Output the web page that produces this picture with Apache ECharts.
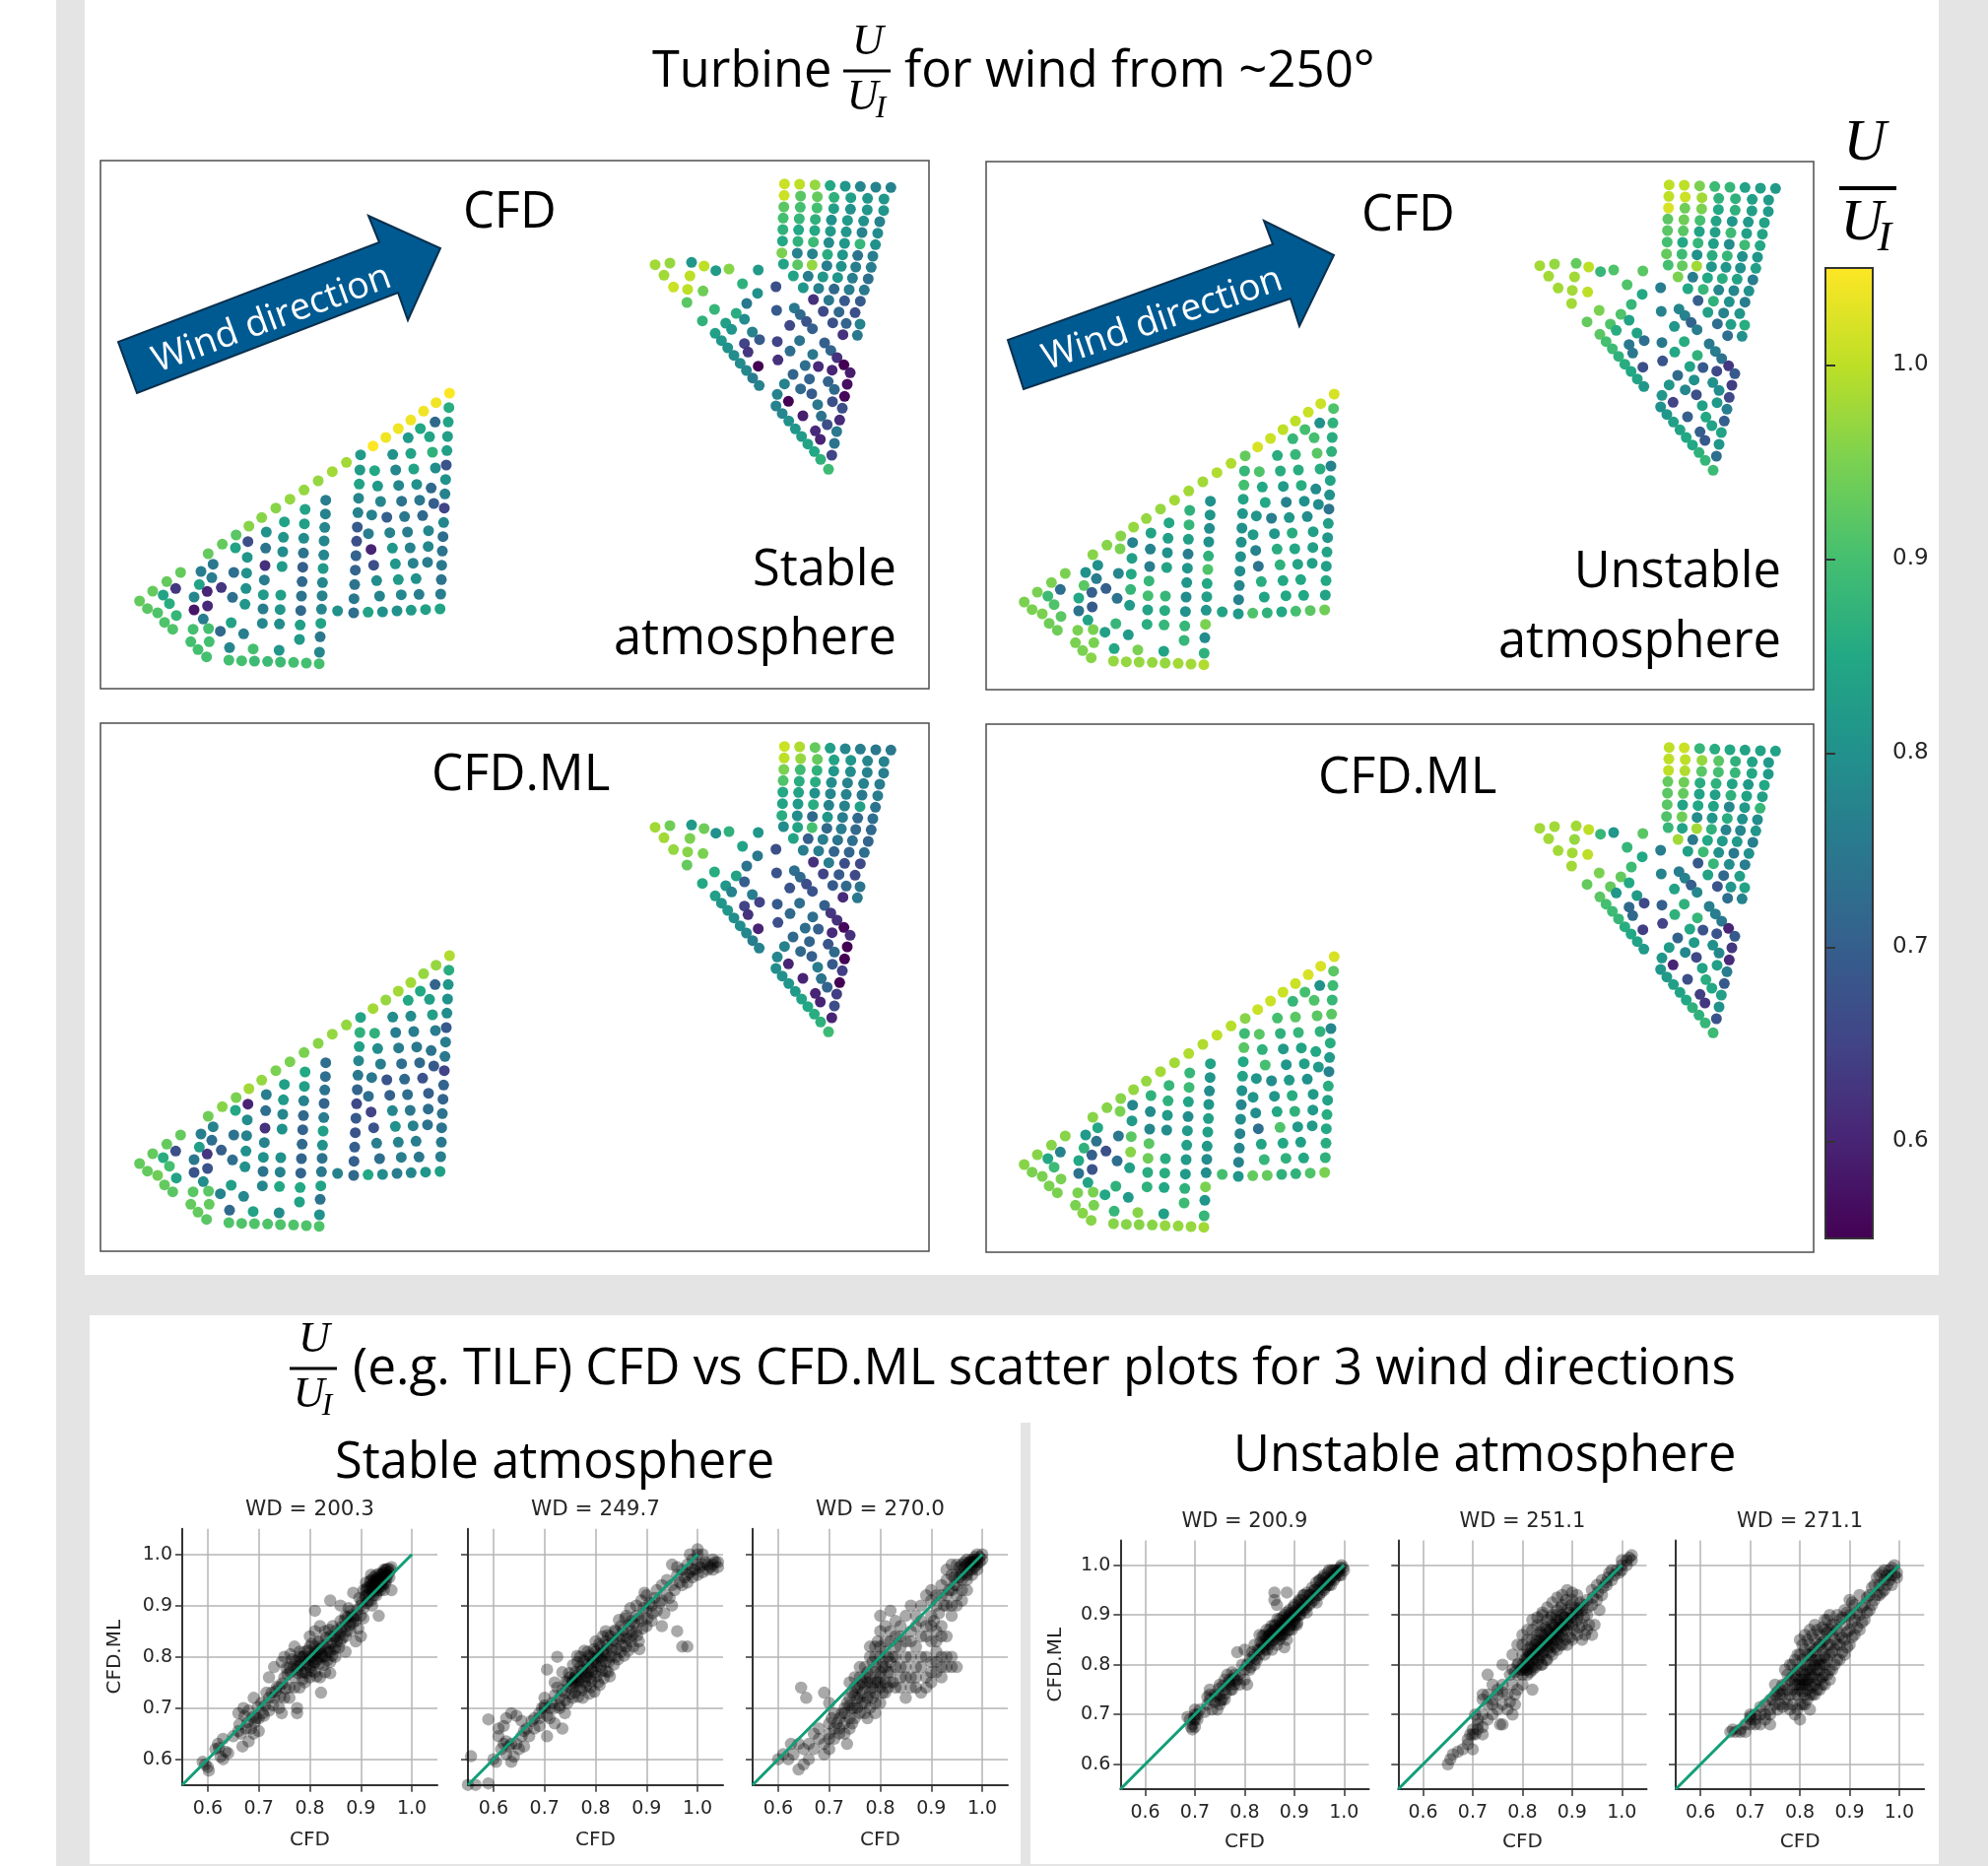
<!DOCTYPE html>
<html><head><meta charset="utf-8">
<script src="https://cdn.jsdelivr.net/npm/echarts@6/dist/echarts.min.js"></script>
<style>html,body{margin:0;padding:0;background:#fff}#c{width:2018px;height:1894px}</style>
</head><body><div id="c"></div>
<script>
// Turbine rows: [siteX, siteY, stable CFD, unstable CFD, stable CFD.ML, unstable CFD.ML]
const southEdge=[[1009,42,1.05,1.02,.99,1.02],[968,71,1.04,1.01,.97,1.02],[930,97,1.04,1.01,.97,1.02],[891,124,1.04,1.0,.98,1.01],[853,150,1.04,1.0,.98,1.01],[815,177,1.04,1.01,.97,1.01],[776,203,1.05,1.02,.98,1.01],
[695,253,.98,.99,.97,.995],[652,281,.98,.99,.97,1.0],[609,309,.97,.98,.96,.99],[566,337,.97,.98,.95,.99],[523,365,.97,.98,.95,.98],[480,392,.96,.97,.95,.98],[437,421,.96,.97,.97,.97],[398,447,.96,.97,.98,.97],[359,474,.92,.96,.95,.96],[317,502,.93,.96,.96,.96],[274,531,.93,.96,.94,.96],[190,588,.93,.95,.93,.96],[148,616,.93,.95,.93,.96],[105,645,.93,.95,.93,.96],[65,675,.93,.95,.93,.96]];
const southCol1=[[738,230,.82,.93,.84,.96],[736,276,.82,.88,.87,.89],[734,319,.84,.9,.83,.92],[732,362,.78,.84,.78,.85],[730,406,.77,.81,.75,.84],[728,450,.69,.8,.71,.8],[726,493,.67,.8,.66,.78],[724,537,.71,.8,.69,.79],[722,581,.71,.79,.68,.77],[720,625,.74,.78,.7,.78],[718,668,.75,.77,.7,.77]];
const southCol2=[[781,278,.85,.91,.87,.92],[790,325,.82,.85,.79,.87],[799,372,.78,.85,.76,.9],[772,413,.77,.81,.75,.81],[818,420,.7,.76,.68,.79],[762,470,.76,.82,.73,.81],[770,518,.6,.77,.65,.79],[778,566,.67,.74,.68,.73],[787,613,.79,.86,.76,.84],[796,660,.77,.84,.73,.88]];
const southCol3=[[836,229,.8,.86,.79,.9],[845,276,.78,.86,.76,.87],[854,323,.78,.82,.76,.82],[863,371,.74,.77,.73,.81],[872,418,.75,.81,.72,.82],[827,467,.77,.81,.7,.81],[835,514,.81,.86,.78,.85],[844,562,.81,.87,.8,.91],[853,610,.82,.85,.77,.85],[862,656,.78,.85,.76,.87]];
const southCol4=[[883,178,.82,.88,.85,.88],[891,226,.84,.88,.79,.92],[900,273,.84,.86,.76,.88],[909,320,.8,.86,.75,.84],[918,368,.75,.8,.72,.83],[927,415,.72,.79,.68,.8],[881,465,.76,.86,.73,.86],[889,513,.77,.85,.75,.87],[898,560,.77,.84,.77,.82],[907,607,.8,.85,.76,.83],[916,655,.76,.85,.75,.85]];
const southCol5=[[920,150,.85,.9,.85,.9],[948,175,.84,.9,.83,.91],[957,222,.87,.92,.83,.92],[966,270,.79,.86,.76,.87],[953,331,.72,.79,.74,.85],[961,378,.7,.79,.69,.82],[945,461,.78,.83,.7,.82],[944,509,.78,.83,.73,.82],[942,557,.76,.83,.74,.82],[965,130,.72,.8,.71,.8]];
const southCol6=[[1007,86,.86,.91,.86,.92],[1005,130,.84,.87,.81,.89],[1003,174,.83,.86,.8,.88],[1001,217,.83,.87,.79,.92],[999,261,.68,.77,.69,.78],[997,305,.8,.84,.76,.86],[995,349,.77,.8,.75,.82],[993,392,.65,.74,.65,.77],[991,436,.78,.83,.71,.86],[989,479,.73,.81,.71,.84],[987,523,.74,.84,.74,.86],[985,566,.75,.83,.74,.85],[984,610,.74,.85,.75,.86],[982,654,.76,.84,.76,.87]];
const southFoot=[[668,705,.8,.84,.77,.9],[717,711,.73,.82,.72,.81],[761,709,.84,.91,.85,.93],[805,708,.8,.87,.79,.93],[849,705,.8,.85,.76,.87],[892,703,.82,.9,.78,.87],[936,701,.83,.92,.81,.91],[980,699,.84,.94,.83,.95]];
const southColA=[[632,368,.76,.8,.73,.84],[631,410,.77,.81,.73,.81],[629,451,.78,.79,.74,.79],[627,492,.78,.8,.71,.81],[626,535,.78,.87,.76,.83],[624,576,.82,.91,.83,.83],[622,619,.78,.85,.8,.82],[621,659,.77,.83,.74,.79],[619,700,.78,.81,.75,.79],[617,743,.84,.95,.84,.95],[615,784,.75,.79,.74,.81],[613,831,.78,.87,.8,.88]];
const southColB=[[569,396,.84,.87,.85,.88],[567,440,.83,.88,.83,.89],[565,484,.79,.83,.77,.84],[564,529,.74,.76,.72,.79],[562,572,.7,.81,.71,.82],[560,616,.72,.81,.72,.83],[558,660,.74,.79,.71,.82],[556,704,.72,.8,.71,.82],[554,748,.83,.88,.85,.87],[552,792,.82,.88,.84,.89]];
const southColC=[[506,434,.84,.85,.83,.88],[503,481,.81,.83,.82,.87],[501,525,.79,.8,.78,.82],[499,570,.82,.84,.8,.79],[495,657,.83,.88,.8,.86],[493,701,.81,.86,.77,.86],[491,745,.79,.88,.85,.85],[490,825,.81,.84,.79,.83]];
const southColD=[[451,465,.8,.84,.76,.87],[449,514,.74,.77,.73,.79],[447,567,.62,.76,.62,.78],[445,611,.76,.88,.77,.92],[442,656,.82,.9,.8,.94],[441,699,.76,.84,.74,.86],[439,743,.78,.86,.78,.87]];
const southColE=[[395,494,.67,.77,.6,.78],[393,542,.81,.83,.79,.82],[391,590,.8,.85,.77,.92],[389,637,.8,.88,.8,.96],[386,685,.81,.82,.8,.83],[357,513,.84,.95,.85,.95]];
const southMisc=[[289,563,.75,.8,.77,.85],[252,585,.76,.8,.76,.82],[352,588,.73,.78,.74,.75],[285,604,.76,.76,.73,.74],[247,625,.84,.92,.83,.87],[314,634,.63,.7,.7,.67],[271,646,.6,.7,.63,.7],[175,637,.63,.73,.67,.77],[348,664,.73,.74,.73,.73],[231,663,.78,.85,.75,.85],[137,657,.84,.89,.86,.85],[156,683,.86,.91,.9,.89],[231,702,.58,.74,.68,.74],[272,690,.61,.69,.68,.68],[89,698,.92,.95,.93,.95],[120,711,.91,.95,.94,.95],[177,719,.88,.92,.84,.95],[259,730,.76,.84,.79,.84],[141,740,.91,.94,.93,.95],[344,741,.84,.88,.83,.87],[166,761,.91,.94,.92,.95],[228,761,.9,.95,.92,.95],[275,759,.9,.95,.92,.95],[311,767,.72,.83,.77,.85],[382,775,.76,.82,.78,.82],[221,799,.9,.95,.93,.95],[277,799,.9,.95,.93,.95],[243,823,.9,.95,.93,.96],[339,817,.78,.85,.72,.88],[411,821,.9,.95,.84,.96],[269,845,.9,.96,.92,.96]];
const southBase=[[337,855,.9,.97,.91,.96],[376,857,.9,.97,.91,.96],[415,858,.89,.97,.91,.96],[455,859,.89,.97,.91,.96],[494,861,.89,.97,.91,.97],[534,862,.9,.98,.91,.97],[573,864,.9,.98,.91,.97],[612,866,.9,.99,.91,.98]];

const northRow1=[[529,110,1.01,1.0,1.01,1.0],[575,111,1.0,1.0,.99,1.01],[622,113,.97,.95,.93,.88],[668,115,.85,.89,.83,.86],[714,117,.81,.88,.78,.85],[760,118,.78,.84,.76,.84],[807,120,.77,.83,.75,.84],[853,121,.77,.82,.75,.84]];
const northRow2=[[528,145,1.01,1.0,1.0,1.0],[578,147,.92,1.01,.97,1.0],[629,149,.93,.98,.93,.97],[680,151,.87,.87,.84,.92],[731,152,.83,.87,.81,.87],[782,154,.81,.83,.78,.84],[832,156,.81,.82,.77,.82]];
const northRow3=[[527,180,.92,1.02,.95,1.0],[577,181,.9,.94,.89,.99],[628,183,.9,.95,.87,.92],[679,185,.83,.85,.81,.9],[730,187,.8,.87,.79,.88],[781,189,.81,.83,.77,.85],[831,191,.81,.82,.76,.82]];
const northRow4=[[525,214,.9,.92,.91,.93],[574,216,.88,.94,.86,.94],[623,218,.87,.9,.86,.86],[672,220,.8,.84,.79,.87],[721,221,.82,.81,.77,.84],[770,223,.8,.82,.77,.82],[819,225,.77,.84,.76,.85]];
const northRow5=[[524,249,.87,.92,.85,.92],[572,250,.85,.92,.84,.93],[621,252,.85,.84,.8,.84],[669,254,.82,.83,.78,.83],[717,256,.81,.89,.77,.87],[765,258,.77,.83,.75,.84],[813,260,.79,.84,.76,.83]];
const northRow6=[[523,284,.85,.9,.84,.92],[570,285,.87,.85,.82,.84],[617,287,.89,.88,.86,.85],[664,289,.79,.83,.77,.84],[712,291,.81,.79,.77,.78],[759,293,.88,.89,.83,.82],[806,295,.8,.85,.74,.88]];
const northRow7=[[521,320,.95,.93,.86,.91],[568,321,.77,.89,.79,.94],[614,323,.77,.8,.72,.79],[660,325,.86,.86,.81,.81],[706,326,.81,.88,.76,.86],[752,328,.74,.8,.72,.8],[798,330,.76,.81,.73,.79]];
const northRow8=[[526,354,.84,.9,.79,.88],[569,356,.92,.93,.84,.84],[613,357,.97,.98,.9,.98],[658,359,.76,.81,.72,.87],[702,361,.8,.81,.76,.77],[746,363,.76,.8,.72,.78],[793,364,.76,.83,.72,.81]];
const northRow9=[[556,390,.84,.95,.84,.98],[601,391,.76,.76,.7,.75],[646,393,.81,.85,.76,.85],[691,395,.81,.86,.74,.82],[736,397,.76,.84,.73,.82],[784,399,.73,.76,.71,.76]];
const northRow10=[[586,426,.81,.85,.76,.83],[633,428,.77,.88,.76,.89],[680,430,.72,.78,.71,.8],[726,432,.76,.78,.71,.75],[772,433,.75,.8,.73,.8]];
const northRow11=[[617,462,.62,.7,.62,.69],[664,464,.75,.87,.76,.88],[712,466,.69,.8,.67,.79],[760,467,.69,.76,.66,.76]];
const northRow12=[[647,498,.66,.83,.65,.84],[695,500,.72,.77,.69,.72],[744,502,.67,.81,.66,.83]];
const northRow13=[[676,533,.67,.73,.69,.68],[717,535,.71,.83,.72,.81],[759,537,.77,.86,.74,.84]];
const northRow14=[[707,569,.62,.73,.61,.73],[751,571,.75,.8,.75,.77]];
const northWest=[[135,356,.98,.98,.98,.98],[180,351,.97,.97,.94,.98],[246,349,.81,.93,.82,.98],[284,360,1.0,1.0,.94,1.0],[320,374,.82,.88,.8,.88],[360,369,.96,.91,.87,.81],[449,372,.82,.92,.81,.92],[162,388,.98,.98,.98,.98],[241,390,1.0,.98,.95,.97],[191,424,1.01,.98,.97,.98],[234,431,1.0,.98,.96,.98],[281,436,.94,1.0,.95,1.0],[232,471,.92,.98,.93,.98],[401,414,.87,.91,.84,.88],[447,443,.8,.85,.75,.85],[503,423,.67,.76,.67,.76],[414,474,.75,.88,.74,.89],[316,492,.88,.95,.86,.95],[382,504,.86,.91,.84,.93],[279,527,.87,.93,.85,.93],[407,522,.79,.84,.7,.85],[350,534,.83,.91,.81,.93],[368,553,.81,.86,.77,.81],[431,561,.77,.84,.76,.82],[453,584,.69,.73,.65,.66],[407,596,.65,.75,.65,.72],[418,622,.63,.75,.62,.72],[449,665,.55,.67,.6,.64]];
const northDiagA=[[318,565,.83,.92,.83,.92],[337,587,.81,.9,.81,.9],[356,609,.8,.89,.81,.89],[375,632,.79,.87,.79,.88],[394,656,.79,.86,.79,.86],[413,678,.78,.85,.78,.85],[432,701,.76,.84,.76,.84],[452,724,.77,.81,.77,.82]];
const northMid=[[505,495,.69,.77,.68,.77],[559,488,.75,.78,.73,.76],[577,508,.72,.77,.72,.77],[596,529,.68,.71,.67,.7],[614,551,.7,.76,.68,.78],[545,541,.66,.81,.68,.84],[507,590,.65,.75,.69,.7],[575,587,.74,.86,.73,.87],[546,619,.73,.85,.72,.87],[509,646,.62,.68,.67,.65]];
const northEastEdge=[[651,594,.7,.75,.7,.76],[670,617,.71,.76,.63,.76],[689,639,.62,.74,.62,.75],[710,661,.55,.63,.56,.6],[729,685,.59,.69,.62,.69],[720,720,.57,.64,.55,.63],[712,757,.56,.66,.55,.61],[705,793,.67,.76,.64,.76],[697,829,.61,.7,.55,.69],[688,864,.75,.84,.64,.83],[681,900,.74,.81,.67,.8],[673,936,.65,.73,.6,.68]];
const northInner=[[615,629,.75,.87,.73,.88],[592,663,.73,.84,.73,.85],[632,666,.61,.69,.7,.68],[674,677,.6,.66,.61,.68],[555,690,.71,.72,.72,.71],[605,704,.71,.8,.71,.82],[662,712,.71,.8,.68,.8],[681,736,.72,.79,.72,.78],[529,719,.77,.81,.77,.82],[578,734,.72,.78,.72,.78],[612,749,.69,.67,.7,.66],[675,773,.67,.82,.69,.83],[630,782,.75,.83,.76,.84],[641,817,.74,.85,.74,.86],[659,843,.67,.84,.71,.85],[541,772,.55,.65,.6,.6],[585,816,.59,.7,.6,.67],[623,862,.61,.7,.6,.64],[638,888,.6,.69,.6,.63]];
const northDiagB=[[507,751,.77,.81,.78,.81],[503,786,.77,.8,.79,.81],[522,809,.78,.81,.8,.82],[542,832,.8,.83,.81,.83],[562,856,.81,.84,.82,.84],[581,879,.82,.85,.84,.85],[600,902,.84,.85,.85,.87],[620,925,.85,.87,.86,.87],[639,949,.87,.88,.87,.88],[663,979,.89,.89,.89,.89]];

const colorbarTicks=[.6,.7,.8,.9,1.0];
const viridis=['#440154','#482475','#414487','#355f8d','#2a788e','#21918c','#22a884','#44bf70','#7ad151','#bddf26','#fde725'];

// CFD vs CFD.ML scatter: [CFD, CFD.ML]
const stable200=[[.6,.585],[.595,.59],[.59,.595],[.602,.578],[.62,.63],[.63,.64],[.615,.62],[.625,.605],[.63,.6],[.64,.612],[.622,.622],[.635,.615],[.65,.645],[.66,.655],[.668,.625],[.665,.65],[.68,.635],[.675,.66],[.685,.66],[.69,.65],[.7,.655],[.695,.68],[.66,.69],[.67,.7],[.68,.695],[.69,.72],[.692,.672],[.7,.68],[.705,.71],[.71,.685],[.72,.695],[.72,.72],[.73,.72],[.74,.7],[.745,.69],[.715,.73],[.733,.733],[.75,.72],[.76,.72],[.74,.74],[.72,.76],[.73,.78],[.775,.7],[.775,.69],[.77,.74],[.76,.74],[.75,.76],[.76,.78],[.765,.795],[.75,.8],[.77,.82],[.77,.76],[.775,.78],[.78,.8],[.78,.74],[.785,.77],[.79,.79],[.79,.75],[.78,.81],[.79,.81],[.8,.82],[.8,.84],[.8,.78],[.8,.76],[.805,.8],[.81,.77],[.81,.79],[.81,.82],[.81,.85],[.82,.8],[.82,.83],[.82,.86],[.82,.76],[.822,.73],[.815,.81],[.83,.77],[.83,.8],[.83,.82],[.83,.85],[.84,.79],[.84,.81],[.84,.84],[.84,.768],[.845,.86],[.85,.82],[.85,.8],[.85,.84],[.86,.83],[.86,.85],[.86,.87],[.87,.81],[.87,.84],[.87,.86],[.87,.88],[.88,.85],[.88,.87],[.88,.89],[.89,.83],[.89,.87],[.89,.88],[.9,.84],[.9,.88],[.905,.875],[.895,.855],[.81,.89],[.84,.91],[.86,.9],[.885,.925],[.905,.93],[.91,.92],[.915,.91],[.91,.945],[.92,.93],[.92,.94],[.92,.95],[.925,.92],[.93,.93],[.93,.94],[.93,.95],[.93,.96],[.935,.935],[.94,.94],[.94,.95],[.94,.96],[.945,.97],[.945,.945],[.95,.95],[.95,.96],[.95,.97],[.955,.965],[.96,.975],[.96,.93],[.935,.88],[.92,.96],[.925,.945],[.935,.955],[.915,.935],[.925,.955],[.945,.965],[.91,.93],[.9,.9],[.92,.91],[.93,.92],[.775,.775],[.78,.79],[.785,.8],[.79,.77],[.795,.785],[.8,.8],[.805,.79],[.81,.81],[.815,.795],[.82,.815],[.825,.8],[.835,.81],[.935,.945],[.94,.945],[.93,.945],[.925,.935]];
const stable200More=[[.762,.771],[.768,.783],[.772,.792],[.777,.768],[.782,.784],[.786,.756],[.788,.801],[.793,.768],[.796,.812],[.798,.794],[.802,.772],[.804,.826],[.807,.784],[.812,.806],[.813,.762],[.817,.829],[.818,.787],[.823,.806],[.826,.822],[.827,.784],[.832,.838],[.834,.793],[.836,.816],[.838,.853],[.842,.827],[.844,.802],[.847,.838],[.848,.815],[.852,.852],[.853,.829],[.857,.818],[.858,.842],[.862,.858],[.864,.837],[.868,.871],[.872,.85],[.874,.878],[.878,.862],[.882,.881],[.884,.866],[.746,.748],[.752,.738],[.756,.766],[.742,.722],[.736,.742],[.728,.705],[.725,.73],[.712,.705],[.708,.69],[.698,.702],[.688,.682],[.678,.672],[.672,.685],[.662,.668],[.754,.778],[.745,.79],[.762,.805],[.908,.918],[.912,.935],[.916,.922],[.918,.947],[.922,.938],[.924,.928],[.926,.948],[.928,.935],[.931,.952],[.932,.927],[.934,.943],[.936,.962],[.937,.948],[.938,.93],[.941,.955],[.942,.938],[.943,.963],[.944,.952],[.946,.958],[.948,.97],[.948,.943],[.952,.958],[.953,.972],[.956,.955],[.958,.97],[.902,.908],[.897,.915],[.893,.892],[.886,.877],[.876,.895],[.905,.895],[.912,.905],[.922,.9],[.945,.93]];
const stable250=[[.556,.606],[.59,.678],[.59,.553],[.55,.55],[.565,.55],[.61,.66],[.61,.645],[.625,.68],[.635,.69],[.645,.685],[.655,.675],[.62,.665],[.6,.6],[.605,.595],[.62,.63],[.63,.625],[.625,.61],[.64,.605],[.635,.595],[.65,.62],[.66,.625],[.67,.645],[.66,.655],[.68,.66],[.675,.675],[.69,.665],[.69,.69],[.7,.7],[.705,.645],[.71,.68],[.72,.67],[.735,.66],[.715,.71],[.7,.72],[.695,.7],[.72,.7],[.73,.72],[.725,.74],[.74,.69],[.745,.71],[.705,.775],[.725,.8],[.735,.77],[.72,.75],[.745,.75],[.74,.73],[.75,.74],[.75,.76],[.755,.72],[.76,.75],[.76,.77],[.76,.73],[.765,.79],[.77,.74],[.77,.76],[.77,.78],[.77,.8],[.775,.72],[.78,.75],[.78,.77],[.78,.79],[.785,.81],[.79,.76],[.79,.78],[.79,.8],[.79,.74],[.8,.77],[.8,.79],[.8,.81],[.8,.83],[.805,.75],[.81,.78],[.81,.8],[.81,.82],[.82,.79],[.82,.81],[.82,.83],[.82,.85],[.825,.77],[.83,.8],[.83,.82],[.83,.84],[.84,.8],[.84,.83],[.84,.85],[.85,.81],[.85,.84],[.85,.86],[.86,.82],[.86,.84],[.86,.88],[.87,.83],[.87,.85],[.87,.87],[.88,.85],[.88,.88],[.88,.9],[.885,.83],[.89,.87],[.89,.91],[.9,.86],[.9,.89],[.9,.92],[.91,.87],[.91,.9],[.92,.89],[.92,.93],[.93,.86],[.93,.91],[.93,.94],[.94,.92],[.94,.95],[.95,.94],[.95,.9],[.96,.85],[.97,.82],[.98,.82],[.96,.96],[.97,.97],[.97,.94],[.98,.96],[.98,.98],[.99,.97],[1.0,1.0],[1.0,.98],[1.0,.96],[1.01,.98],[1.02,.97],[1.02,.98],[1.03,.98],[1.04,.985],[1.04,.975],[1.03,.99],[1.01,1.0],[1.0,1.01],[.99,.99],[.95,.98],[.76,.76],[.775,.775],[.785,.77],[.795,.79],[.805,.8],[.815,.81],[.765,.755],[.755,.75],[.78,.76]];
const stable250More=[[.742,.752],[.748,.768],[.752,.728],[.756,.784],[.758,.742],[.762,.762],[.764,.802],[.766,.722],[.768,.752],[.772,.772],[.773,.735],[.776,.792],[.778,.812],[.782,.742],[.783,.762],[.786,.785],[.787,.803],[.788,.728],[.792,.752],[.793,.772],[.796,.795],[.797,.815],[.798,.732],[.802,.762],[.803,.782],[.806,.805],[.807,.825],[.808,.745],[.812,.772],[.813,.792],[.814,.84],[.816,.758],[.818,.802],[.821,.772],[.822,.822],[.824,.842],[.826,.79],[.828,.762],[.832,.812],[.834,.832],[.836,.785],[.838,.852],[.842,.815],[.844,.795],[.846,.872],[.848,.835],[.852,.822],[.854,.852],[.856,.802],[.858,.875],[.862,.835],[.864,.812],[.866,.862],[.868,.895],[.872,.842],[.874,.82],[.876,.865],[.882,.842],[.884,.875],[.886,.815],[.892,.855],[.894,.895],[.896,.925],[.902,.875],[.906,.905],[.912,.885],[.916,.915],[.926,.905],[.935,.885],[.945,.915],[.955,.93],[.965,.945],[.975,.955],[.985,.965],[.995,.97],[1.005,.975],[1.015,.985],[1.025,.975],[1.035,.985],[1.03,.97],[1.01,.965],[.99,.955],[.98,.945],[.96,.975],[.985,1.0],[.7,.705],[.71,.7],[.72,.725],[.73,.705],[.735,.735],[.705,.685],[.69,.68],[.68,.68],[.665,.66],[.655,.645],[.645,.63],[.635,.63],[.625,.635],[.615,.62],[.73,.7],[.74,.715],[.755,.755]];
const stable270=[[.6,.6],[.62,.6],[.64,.58],[.65,.59],[.61,.61],[.625,.63],[.63,.61],[.64,.63],[.65,.62],[.66,.6],[.66,.63],[.67,.62],[.68,.64],[.68,.66],[.67,.65],[.69,.63],[.7,.64],[.7,.62],[.71,.66],[.7,.67],[.72,.66],[.73,.65],[.71,.69],[.72,.68],[.73,.7],[.74,.66],[.74,.68],[.645,.74],[.655,.72],[.69,.73],[.7,.71],[.69,.61],[.74,.72],[.75,.7],[.75,.74],[.76,.72],[.76,.76],[.77,.69],[.77,.74],[.77,.78],[.78,.73],[.78,.76],[.78,.8],[.79,.71],[.79,.75],[.79,.78],[.79,.82],[.8,.74],[.8,.77],[.8,.8],[.8,.85],[.8,.88],[.81,.73],[.81,.78],[.81,.81],[.81,.86],[.82,.75],[.82,.79],[.82,.83],[.82,.89],[.83,.74],[.83,.8],[.83,.84],[.83,.87],[.84,.76],[.84,.82],[.84,.86],[.85,.72],[.85,.78],[.85,.83],[.85,.88],[.86,.74],[.86,.8],[.86,.85],[.86,.9],[.87,.76],[.87,.82],[.87,.88],[.88,.73],[.88,.78],[.88,.84],[.88,.9],[.89,.76],[.89,.8],[.89,.86],[.89,.92],[.9,.75],[.9,.79],[.9,.83],[.9,.88],[.9,.93],[.91,.77],[.91,.81],[.91,.85],[.91,.9],[.92,.76],[.92,.8],[.92,.86],[.92,.92],[.93,.78],[.93,.84],[.93,.9],[.93,.95],[.94,.8],[.94,.88],[.94,.93],[.95,.78],[.95,.92],[.95,.96],[.96,.91],[.96,.95],[.96,.97],[.97,.95],[.97,.98],[.97,.99],[.98,.96],[.98,.98],[.98,.99],[.99,.98],[.99,.99],[.99,1.0],[1.0,.99],[.96,.98],[.95,.94],[.94,.96],[.975,.97],[.985,.975],[.995,.995],[.965,.985],[.955,.955],[.945,.94],[.73,.69],[.745,.7],[.755,.72],[.765,.73],[.775,.75],[.785,.74],[.79,.77],[.8,.75],[.76,.745],[.75,.725],[.74,.705],[.805,.79],[.815,.77],[.825,.8],[.97,.965],[.98,.985],[.985,.99],[.975,.985],[.99,.985]];
const stable270More=[[.7,.65],[.705,.68],[.71,.64],[.715,.67],[.72,.65],[.725,.69],[.73,.67],[.735,.63],[.735,.71],[.74,.75],[.745,.67],[.745,.73],[.75,.68],[.75,.76],[.755,.7],[.755,.74],[.76,.69],[.76,.78],[.765,.71],[.765,.75],[.77,.71],[.77,.76],[.775,.68],[.775,.72],[.775,.77],[.78,.7],[.78,.75],[.78,.82],[.785,.72],[.785,.79],[.79,.69],[.79,.73],[.79,.8],[.795,.75],[.795,.83],[.8,.71],[.8,.76],[.8,.82],[.805,.73],[.805,.78],[.81,.75],[.81,.83],[.815,.74],[.815,.8],[.82,.77],[.82,.85],[.825,.75],[.83,.78],[.83,.82],[.84,.74],[.84,.78],[.84,.84],[.85,.76],[.85,.8],[.86,.76],[.86,.83],[.87,.74],[.87,.78],[.87,.86],[.88,.8],[.88,.87],[.89,.74],[.89,.84],[.9,.77],[.9,.86],[.9,.91],[.91,.79],[.91,.83],[.91,.92],[.92,.78],[.92,.84],[.92,.94],[.93,.8],[.93,.92],[.93,.97],[.94,.78],[.94,.9],[.94,.98],[.95,.9],[.95,.98],[.96,.93],[.96,.96],[.97,.93],[.97,.96],[.975,.985],[.98,.97],[.985,.985],[.99,.97],[.995,.985],[1.0,1.0],[.985,.995],[.965,.975],[.955,.975],[.945,.955],[.935,.93],[.925,.9],[.915,.885],[.905,.87]];
const unstable201=[[.69,.69],[.685,.695],[.695,.67],[.7,.675],[.695,.68],[.7,.69],[.705,.69],[.7,.7],[.71,.71],[.72,.705],[.725,.72],[.73,.73],[.73,.75],[.735,.71],[.74,.725],[.74,.74],[.745,.71],[.75,.72],[.75,.74],[.75,.76],[.755,.73],[.76,.73],[.76,.75],[.76,.77],[.765,.78],[.77,.76],[.77,.77],[.775,.75],[.78,.78],[.78,.76],[.785,.77],[.79,.78],[.79,.76],[.8,.79],[.8,.77],[.805,.76],[.81,.79],[.81,.81],[.82,.8],[.82,.82],[.82,.84],[.825,.81],[.83,.82],[.83,.83],[.84,.82],[.84,.84],[.84,.86],[.845,.83],[.85,.84],[.85,.85],[.85,.87],[.855,.83],[.86,.85],[.86,.86],[.86,.88],[.865,.84],[.87,.85],[.87,.87],[.87,.89],[.875,.86],[.875,.88],[.88,.87],[.88,.89],[.88,.9],[.88,.835],[.885,.85],[.89,.88],[.89,.9],[.89,.91],[.895,.87],[.9,.89],[.9,.9],[.9,.92],[.905,.88],[.91,.9],[.91,.92],[.91,.93],[.92,.91],[.92,.92],[.92,.94],[.925,.905],[.93,.92],[.93,.94],[.94,.93],[.94,.95],[.945,.925],[.95,.94],[.95,.95],[.95,.97],[.96,.95],[.96,.96],[.96,.98],[.97,.96],[.97,.97],[.97,.99],[.98,.97],[.98,.98],[.98,.99],[.99,.98],[.99,.99],[.995,1.0],[1.0,.99],[.86,.945],[.86,.93],[.865,.92],[.885,.945],[.785,.825],[.8,.83],[.83,.86],[.845,.85],[.855,.86],[.865,.87],[.87,.875],[.875,.87],[.88,.88],[.885,.89],[.89,.89],[.895,.895],[.9,.905],[.905,.9],[.91,.91],[.915,.915],[.84,.83],[.85,.86],[.86,.87],[.87,.86],[.88,.86],[.89,.87],[.9,.88],[.985,.985],[.975,.975],[.965,.965]];
const unstable201More=[[.832,.845],[.836,.858],[.838,.835],[.842,.852],[.844,.87],[.846,.842],[.848,.858],[.852,.862],[.854,.878],[.856,.848],[.858,.868],[.862,.878],[.864,.855],[.866,.892],[.868,.866],[.872,.882],[.874,.858],[.876,.895],[.878,.875],[.882,.885],[.884,.905],[.886,.868],[.888,.895],[.892,.878],[.894,.905],[.896,.885],[.898,.915],[.902,.895],[.904,.91],[.906,.885],[.908,.925],[.912,.9],[.914,.93],[.916,.91],[.918,.94],[.922,.925],[.924,.915],[.926,.945],[.928,.93],[.932,.94],[.934,.925],[.936,.955],[.938,.935],[.942,.95],[.944,.965],[.946,.94],[.948,.955],[.952,.97],[.954,.945],[.956,.965],[.958,.975],[.962,.955],[.964,.975],[.966,.96],[.968,.985],[.972,.97],[.974,.96],[.976,.99],[.982,.975],[.984,.99],[.988,.985],[.992,.995],[.994,.98],[.998,.995],[.742,.735],[.748,.752],[.752,.728],[.756,.758],[.762,.742],[.768,.765],[.772,.75],[.778,.772],[.782,.768],[.812,.795],[.816,.815],[.822,.812],[.826,.83],[.815,.825],[.835,.84],[.805,.8],[.795,.8],[.775,.785],[.73,.74],[.725,.735],[.7,.71],[.705,.7],[.692,.675],[.698,.692]];
const unstable251=[[.65,.6],[.655,.61],[.66,.62],[.67,.625],[.68,.63],[.69,.64],[.69,.65],[.7,.63],[.695,.66],[.7,.67],[.705,.66],[.71,.67],[.72,.675],[.71,.69],[.72,.7],[.73,.69],[.73,.72],[.75,.74],[.72,.74],[.74,.7],[.75,.71],[.76,.68],[.76,.72],[.78,.7],[.785,.72],[.785,.74],[.75,.75],[.77,.74],[.76,.8],[.73,.78],[.74,.76],[.78,.76],[.79,.75],[.8,.76],[.82,.75],[.78,.79],[.79,.8],[.79,.78],[.8,.78],[.8,.8],[.8,.82],[.8,.84],[.81,.78],[.81,.79],[.81,.81],[.81,.83],[.81,.85],[.82,.79],[.82,.81],[.82,.83],[.82,.85],[.82,.87],[.83,.8],[.83,.82],[.83,.84],[.83,.86],[.83,.88],[.84,.8],[.84,.82],[.84,.84],[.84,.86],[.84,.88],[.84,.9],[.85,.81],[.85,.83],[.85,.85],[.85,.87],[.85,.89],[.86,.82],[.86,.84],[.86,.86],[.86,.88],[.86,.9],[.87,.83],[.87,.85],[.87,.87],[.87,.89],[.87,.91],[.88,.84],[.88,.86],[.88,.88],[.88,.9],[.88,.92],[.89,.84],[.89,.87],[.89,.89],[.89,.91],[.89,.95],[.9,.85],[.9,.88],[.9,.9],[.9,.93],[.91,.86],[.91,.89],[.91,.91],[.91,.94],[.92,.85],[.92,.88],[.92,.91],[.93,.9],[.93,.93],[.94,.92],[.94,.95],[.95,.93],[.95,.96],[.96,.94],[.96,.97],[.93,.87],[.94,.86],[.97,.96],[.98,.97],[.98,.99],[.99,.99],[1.0,.99],[1.0,1.0],[1.0,1.01],[1.01,1.0],[1.01,1.01],[1.02,1.01],[1.02,1.02],[1.015,1.015],[.995,.985],[.985,.98],[.975,.985],[.825,.82],[.835,.83],[.845,.845],[.855,.85],[.865,.86],[.875,.875],[.885,.88],[.815,.8],[.805,.795],[.825,.84],[.835,.85],[.845,.86],[.855,.87],[.865,.88],[.875,.89],[.885,.895],[.815,.82]];
const unstable251More=[[.792,.802],[.796,.79],[.802,.795],[.806,.812],[.808,.79],[.812,.802],[.814,.822],[.816,.835],[.818,.795],[.822,.812],[.824,.828],[.826,.795],[.828,.848],[.832,.81],[.834,.835],[.836,.865],[.838,.8],[.842,.825],[.844,.85],[.846,.875],[.848,.81],[.852,.84],[.854,.865],[.856,.825],[.858,.895],[.862,.85],[.864,.875],[.866,.835],[.868,.9],[.872,.86],[.874,.88],[.876,.84],[.878,.915],[.882,.87],[.884,.895],[.886,.85],[.888,.93],[.892,.88],[.894,.905],[.896,.855],[.898,.92],[.902,.895],[.904,.87],[.906,.915],[.912,.9],[.914,.875],[.916,.925],[.922,.92],[.924,.895],[.926,.86],[.932,.915],[.934,.88],[.942,.935],[.945,.88],[.952,.945],[.955,.91],[.962,.955],[.968,.965],[.972,.975],[.9,.945],[.88,.94],[.87,.935],[.86,.925],[.85,.915],[.84,.905],[.83,.895],[.82,.89],[.81,.87],[.8,.86],[.79,.84],[.78,.82],[.81,.815],[.82,.82],[.83,.83],[.84,.835],[.85,.845],[.86,.855],[.87,.865],[.88,.875],[.89,.885],[.9,.895],[.91,.905],[.915,.915],[.875,.855],[.855,.835],[.835,.815],[.815,.785],[.8,.79],[.785,.785],[.775,.78],[.72,.73],[.7,.66],[.71,.68],[.74,.72],[.755,.68],[.76,.76],[.77,.71],[.72,.66],[.73,.74],[.705,.7],[.74,.73],[.76,.745],[.775,.725]];
const unstable271=[[.66,.665],[.665,.67],[.67,.665],[.68,.67],[.69,.68],[.7,.68],[.71,.69],[.72,.7],[.7,.7],[.71,.7],[.73,.72],[.74,.7],[.74,.68],[.73,.69],[.75,.72],[.75,.74],[.76,.72],[.76,.75],[.77,.73],[.77,.76],[.77,.79],[.78,.71],[.78,.74],[.78,.77],[.78,.8],[.79,.7],[.79,.74],[.79,.76],[.79,.78],[.79,.81],[.8,.69],[.8,.72],[.8,.75],[.8,.77],[.8,.79],[.8,.82],[.8,.85],[.81,.72],[.81,.74],[.81,.76],[.81,.78],[.81,.8],[.81,.83],[.81,.86],[.82,.71],[.82,.74],[.82,.76],[.82,.78],[.82,.8],[.82,.82],[.82,.84],[.82,.87],[.83,.74],[.83,.76],[.83,.78],[.83,.8],[.83,.83],[.83,.85],[.83,.88],[.84,.75],[.84,.77],[.84,.79],[.84,.81],[.84,.84],[.84,.86],[.85,.76],[.85,.78],[.85,.8],[.85,.82],[.85,.85],[.85,.87],[.85,.89],[.86,.77],[.86,.79],[.86,.82],[.86,.84],[.86,.87],[.86,.9],[.87,.8],[.87,.83],[.87,.85],[.87,.88],[.88,.81],[.88,.84],[.88,.86],[.88,.89],[.89,.82],[.89,.85],[.89,.88],[.89,.91],[.9,.84],[.9,.87],[.9,.9],[.9,.93],[.91,.86],[.91,.89],[.91,.92],[.92,.87],[.92,.9],[.92,.94],[.93,.89],[.93,.92],[.94,.91],[.94,.94],[.95,.93],[.95,.96],[.96,.94],[.96,.96],[.96,.98],[.97,.95],[.97,.97],[.97,.99],[.98,.97],[.98,.99],[.99,.98],[.99,1.0],[.985,.96],[.995,.975],[.815,.77],[.825,.79],[.835,.81],[.845,.83],[.855,.84],[.865,.86],[.875,.87],[.805,.77],[.795,.79],[.815,.79],[.825,.81],[.835,.79],[.845,.8]];
const unstable271More=[[.74,.71],[.745,.73],[.755,.71],[.755,.745],[.765,.715],[.765,.74],[.765,.76],[.775,.72],[.775,.75],[.775,.78],[.785,.72],[.785,.75],[.785,.775],[.785,.8],[.795,.71],[.795,.74],[.795,.76],[.795,.82],[.805,.72],[.805,.745],[.805,.76],[.805,.785],[.805,.81],[.805,.84],[.815,.73],[.815,.75],[.815,.765],[.815,.82],[.815,.85],[.825,.74],[.825,.755],[.825,.775],[.825,.825],[.825,.86],[.835,.75],[.835,.77],[.835,.835],[.835,.87],[.845,.76],[.845,.775],[.845,.845],[.845,.875],[.855,.78],[.855,.81],[.855,.865],[.855,.89],[.865,.79],[.865,.825],[.865,.88],[.875,.81],[.875,.84],[.875,.9],[.885,.825],[.885,.855],[.885,.895],[.895,.835],[.895,.865],[.895,.905],[.905,.855],[.905,.885],[.905,.925],[.915,.875],[.915,.905],[.925,.885],[.925,.915],[.935,.905],[.935,.935],[.945,.92],[.945,.955],[.955,.94],[.955,.975],[.965,.945],[.965,.985],[.975,.96],[.975,.98],[.985,.98],[.985,.995],[.995,.985],[.69,.665],[.7,.69],[.72,.68],[.75,.76],[.76,.74],[.74,.73],[.73,.7],[.72,.715],[.71,.68],[.7,.695],[.68,.665],[.83,.81],[.84,.8],[.85,.815],[.82,.79],[.81,.77],[.8,.76],[.79,.77]];

const scatterTitles=['WD = 200.3','WD = 249.7','WD = 270.0','WD = 200.9','WD = 251.1','WD = 271.1'];
const scatterSets=[[...stable200,...stable200More],[...stable250,...stable250More],[...stable270,...stable270More],[...unstable201,...unstable201More],[...unstable251,...unstable251More],[...unstable271,...unstable271More]];
const axisValues=[.6,.7,.8,.9,1.0];
const identityLine=[[.55,.55],[1.0,1.0]];

const southOrigin=[54,666], northOrigin=[1554,-39];
const southRows=[southEdge,southCol1,southCol2,southCol3,southCol4,southCol5,southCol6,southFoot,southColA,southColB,southColC,southColD,southColE,southMisc,southBase].flat();
const northRows=[northRow1,northRow2,northRow3,northRow4,northRow5,northRow6,northRow7,northRow8,northRow9,northRow10,northRow11,northRow12,northRow13,northRow14,northWest,northDiagA,northMid,northEastEdge,northInner,northDiagB].flat();
const farmData=i=>[...southRows.map(r=>[r[0]+southOrigin[0],r[1]+southOrigin[1],r[2+i]]),...northRows.map(r=>[r[0]+northOrigin[0],r[1]+northOrigin[1],r[2+i]])];

const SANS='"Open Sans"', DJ='"DejaVu Sans"', SERIF='"Liberation Serif"';
const gray='#e4e4e4';
const rect=(x,y,width,height)=>({type:'rect',silent:true,shape:{x,y,width,height},style:{fill:gray}});
const text=(t,x,base,size,fam,align='left',fill='#000',style='')=>({type:'text',silent:true,z:50,style:{text:t,x,y:base-size*.38,font:`${style} ${size}px ${fam}`,fill,textAlign:align,textVerticalAlign:'middle',align,verticalAlign:'middle'}});
const frac=(cx,yLine,size,half,thick,uDx,uDy,bDy,subDx)=>[
  {type:'rect',silent:true,z:50,shape:{x:cx-half,y:yLine-thick/2,width:2*half,height:thick},style:{fill:'#000'}},
  text('U',cx+uDx,yLine+uDy,size,SERIF,'center','#000','italic'),
  text('U',cx-size*.1,yLine+bDy,size,SERIF,'center','#000','italic'),
  text('I',cx+subDx,yLine+bDy+size*.15,size*.72,SERIF,'center','#000','italic')
];
const arrow=(points)=>({type:'polygon',silent:true,z:40,shape:{points},style:{fill:'#005a92',stroke:'#0b2f4c',lineWidth:2}});
const rotText=(t,x,y,size,rot)=>({type:'text',silent:true,z:50,x,y,rotation:rot,style:{text:t,x:0,y:0,font:`${size}px ${SANS}`,fill:'#fff',textAlign:'center',textVerticalAlign:'middle',align:'center',verticalAlign:'middle'}});

const panels=[[102,163,841,0],[1001,164,840,3],[102,734,841,0],[1001,735,840,3]];
const scatterGrids=[[185,1551.7,259,260],[475,1551.7,259,260],[764,1551.7,259,260],[1137.3,1563.4,252.2,252.6],[1419.3,1563.4,252.2,252.6],[1701,1563.4,252.2,252.6]];

const grid=[],xAxis=[],yAxis=[],series=[];
panels.forEach((p,i)=>{
  grid.push({left:p[0],top:p[1],width:p[2],height:536,show:true,backgroundColor:'#fff',borderColor:'#4d4d4d',borderWidth:1.5});
  xAxis.push({type:'value',gridIndex:i,min:p[3],max:2523,show:false});
  yAxis.push({type:'value',gridIndex:i,min:0,max:1608,inverse:true,show:false});
  series.push({type:'scatter',xAxisIndex:i,yAxisIndex:i,data:farmData(i),symbolSize:11,silent:true,itemStyle:{opacity:1}});
});
const ax=(show,name,gap,rot,margin)=>({type:'value',min:.55,max:1.05,
  axisLine:{show:true,onZero:false,lineStyle:{color:'#333',width:2}},
  axisTick:{show:true,length:7,customValues:axisValues,lineStyle:{color:'#333',width:1.5}},
  axisLabel:{show,customValues:axisValues,formatter:v=>v.toFixed(1),color:'#262626',fontFamily:'DejaVu Sans',fontSize:19,margin,showMinLabel:true,showMaxLabel:true},
  splitLine:{show:true,lineStyle:{color:'#b4b4b4',width:1.5}},
  name,nameLocation:'middle',nameGap:gap,nameRotate:rot,nameTextStyle:{color:'#262626',fontFamily:'DejaVu Sans',fontSize:20}});
scatterGrids.forEach((g,k)=>{
  const i=k+4;
  grid.push({left:g[0],top:g[1],width:g[2],height:g[3]});
  xAxis.push({...ax(true,'CFD',k<3?46:44,0,15),gridIndex:i});
  yAxis.push({...ax(k%3===0,k%3===0?'CFD.ML':'',k<3?58:56,90,10),gridIndex:i});
  series.push({type:'scatter',xAxisIndex:i,yAxisIndex:i,data:scatterSets[k],symbolSize:12.5,silent:true,clip:true,itemStyle:{color:'rgba(0,0,0,.42)',borderWidth:0},z:3});
  series.push({type:'line',xAxisIndex:i,yAxisIndex:i,data:identityLine,symbol:'none',silent:true,lineStyle:{color:'#129e78',width:3},z:4});
});
// colour bar axis
const cbIndex=10;
grid.push({left:1853,top:272,width:48,height:985,show:false});
xAxis.push({type:'value',gridIndex:cbIndex,min:0,max:1,show:false});
yAxis.push({type:'value',gridIndex:cbIndex,min:.55,max:1.05,position:'right',z:10,
  axisLine:{show:false},splitLine:{show:false},
  axisTick:{show:true,length:10,customValues:colorbarTicks,lineStyle:{color:'#333',width:2}},
  axisLabel:{show:true,customValues:colorbarTicks,formatter:v=>v.toFixed(1),color:'#262626',fontFamily:'DejaVu Sans',fontSize:23,margin:20}});

const elements=[
  rect(57,0,29,1294),rect(57,1294,34,600),rect(1968,0,50,1894),rect(57,1294,1961,41),rect(1036,1444,10,450),rect(91,1892,1877,2),
  text('Turbine',662,93,50.5,SANS),text('for wind from ~250°',918,93,51,SANS),...frac(880,72,44,24,3,1,-12,44,14),
  text('(e.g. TILF) CFD vs CFD.ML scatter plots for 3 wind directions',358,1410,51.3,SANS),...frac(318,1389,44,24,3,1,-12,44,14),
  text('Stable atmosphere',340,1505,50.6,SANS),text('Unstable atmosphere',1252,1498,50.6,SANS),
  text('CFD',470,236,50.6,SANS),text('CFD',1382,239,50.6,SANS),text('CFD.ML',438,807,51,SANS),text('CFD.ML',1338,810,51,SANS),
  text('Stable',910,599,50.6,SANS,'right'),text('atmosphere',910,669,50.6,SANS,'right'),
  text('Unstable',1808,601,50.6,SANS,'right'),text('atmosphere',1808,672,50.6,SANS,'right'),
  ...frac(1896,191,60,29,4,-3,-22,59,17),
  {type:'rect',silent:true,z:50,shape:{x:1853,y:272,width:48,height:985},style:{fill:'none',stroke:'#333',lineWidth:2}},
  arrow([[139,399],[120,347],[385,246],[374,219],[447,252],[414,325],[404,297]]),
  rotText('Wind direction',276,324,37.5,.352),
  arrow([[1039,395],[1023,345],[1292,248],[1283,224],[1354,259],[1319,331],[1310,303]]),
  rotText('Wind direction',1180,324,37.5,.33),
];
scatterGrids.forEach((g,k)=>elements.push(text(scatterTitles[k],g[0]+g[2]/2,g[1]-11,k<3?21.5:21,DJ,'center','#262626')));

const chart=echarts.init(document.getElementById('c'),null,{renderer:'canvas'});
chart.setOption({animation:false,backgroundColor:'#fff',tooltip:{show:false},grid,xAxis,yAxis,series,
  visualMap:{type:'continuous',show:true,min:.55,max:1.05,dimension:2,seriesIndex:[0,1,2,3],inRange:{color:viridis},calculable:false,realtime:false,left:1853,top:272,itemWidth:48,itemHeight:985,padding:0,text:null,showLabel:false,textStyle:{fontSize:0}},
  graphic:{elements}});
</script></body></html>
